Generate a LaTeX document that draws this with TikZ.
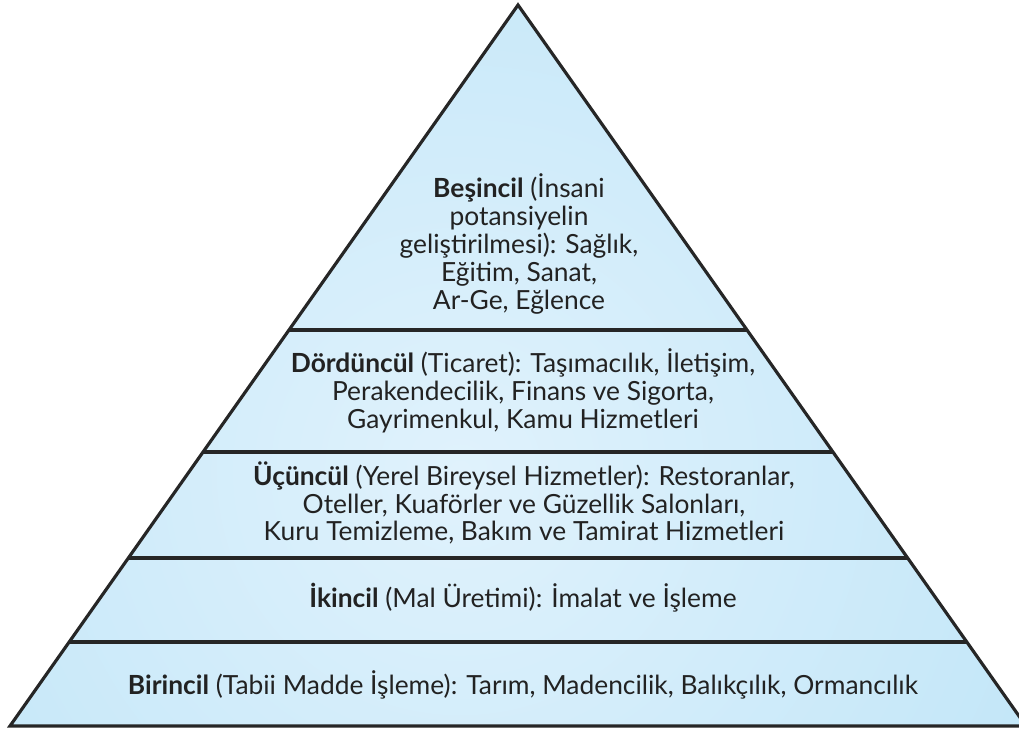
\documentclass[tikz,border=0pt]{standalone}
\usepackage{fontspec}
\setmainfont{Lato}
\usepackage{xcolor}
\usepackage{tikz}
\usetikzlibrary{calc}

\definecolor{skyfill}{RGB}{194,230,248}
\definecolor{skylight}{RGB}{224,242,252}
\definecolor{inkgray}{RGB}{34,34,34}

\tikzset{
	layertext/.style={align=center, text=inkgray, font=\fontsize{7.5}{7.9}\selectfont},
	layerline/.style={line width=1.3pt, color=black!85}
}

\begin{document}
\begin{tikzpicture}
		\useasboundingbox (0,0) rectangle (10.19,7.31);
		\clip (0,0) rectangle (10.19,7.31);
		\coordinate (A) at (5.18,7.26);
		\coordinate (L) at (0.10,0.05);
		\coordinate (R) at (10.26,0.05);
		% pyramid body
		\begin{scope}
			\clip (A) -- (L) -- (R) -- cycle;
			\shade[inner color=skylight, outer color=skyfill] (4.6,2.6) circle (6.5cm);
		\end{scope}
		\draw[line width=0.9pt, color=black!85, line join=miter] (A) -- (L) -- (R) -- cycle;
		% layer borders
		\foreach \t in {0.1165,0.2330,0.3800,0.5492}
			\draw[layerline] ($(L)!\t!(A)$) -- ($(R)!\t!(A)$);
		\node[layertext] (besincil) at (5.19,4.87) {\textbf{Beşincil} (İnsani\\potansiyelin\\geliştirilmesi): Sağlık,\\Eğitim, Sanat,\\Ar-Ge, Eğlence};
		\node[layertext] (dorduncul) at (5.23,3.40) {\textbf{Dördüncül} (Ticaret): Taşımacılık, İletişim,\\Perakendecilik, Finans ve Sigorta,\\Gayrimenkul, Kamu Hizmetleri};
		\node[layertext] (ucuncul) at (5.24,2.28) {\textbf{Üçüncül} (Yerel Bireysel Hizmetler): Restoranlar,\\Oteller, Kuaförler ve Güzellik Salonları,\\Kuru Temizleme, Bakım ve Tamirat Hizmetleri};
		\node[layertext] (ikincil) at (5.23,1.33) {\textbf{İkincil} (Mal Üretimi): İmalat ve İşleme};
		\node[layertext] (birincil) at (5.23,0.46) {\textbf{Birincil} (Tabii Madde İşleme): Tarım, Madencilik, Balıkçılık, Ormancılık};
\end{tikzpicture}
\end{document}
